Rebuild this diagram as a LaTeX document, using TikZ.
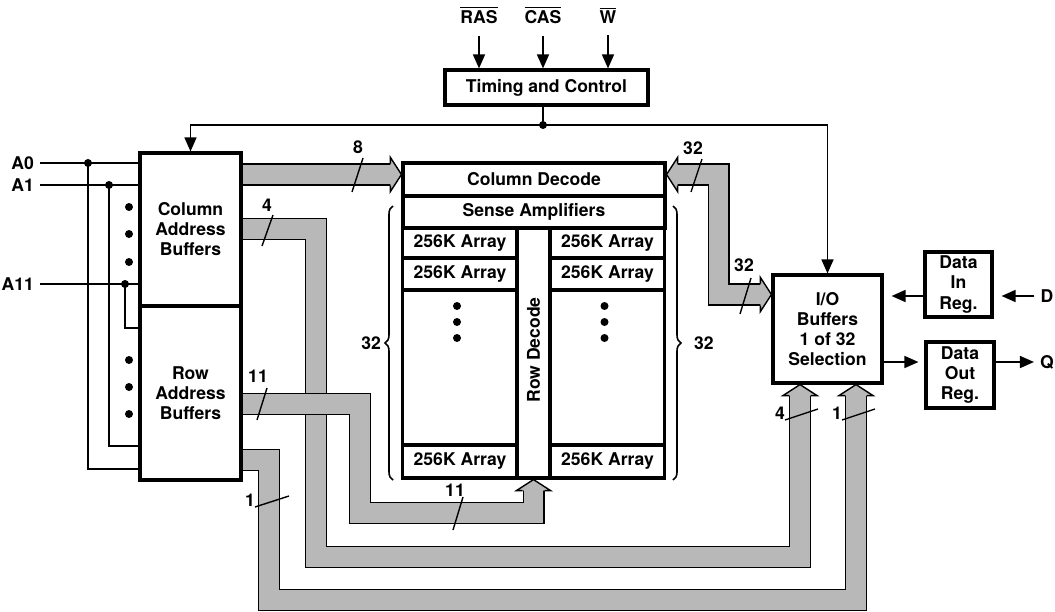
\documentclass[tikz,border=0pt]{standalone}
\usepackage{fontspec}
\setmainfont{TeX Gyre Heros}
\usetikzlibrary{arrows.meta, decorations.pathreplacing}

% wide arrow head at the end of a bus
\newcommand{\bushead}[2]{%
  \begin{scope}[shift={#1}, rotate=#2]
    \fill[black!28] (0,0) -- (-11,17) -- (-11,-17) -- cycle;
    \draw[line width=0.8pt, line join=miter] (-11,11) -- (-11,17) -- (0,0) -- (-11,-17) -- (-11,-11);
  \end{scope}}

\begin{document}
\begin{tikzpicture}[x=0.02cm, y=-0.02cm, >={Triangle[length=0.28cm, width=0.24cm]},
    font=\fontsize{10pt}{11.4pt}\selectfont\bfseries,
    blk/.style={draw, line width=1.8pt, align=center, inner sep=0pt},
    cell/.style={blk, minimum width=2.29cm},
    sig/.style={line width=0.9pt},
    bus/.style={draw=black, line width=0.8pt, double=black!28, double distance=0.384cm, line join=miter},
    tickmark/.style={line width=0.8pt}]
    \useasboundingbox (0,0) rectangle (1055,612);

    % Timing and control
    \node[blk, minimum width=4.06cm, minimum height=0.70cm] (timing) at (546.5,87.5) {Timing and Control};
    \node (ras) at (479,15) {$\overline{\mbox{RAS}}$};
    \node (cas) at (543,15) {$\overline{\mbox{CAS}}$};
    \node (wr) at (608,15) {$\overline{\mbox{W}}$};
    \foreach \s in {ras, cas, wr}
        \draw[sig, ->, shorten <=0.12cm] (\s.south) -- (\s |- timing.north);

    % Address buffers
    \node[blk, minimum width=2.02cm, minimum height=3.06cm] (colbuf) at (190.5,229.5) {Column\\Address\\Buffers};
    \node[blk, minimum width=2.02cm, minimum height=3.48cm] (rowbuf) at (190.5,393) {Row\\Address\\Buffers};

    % Control line
    \coordinate (ctl) at (543,125);
    \draw[sig] (timing.south -| ctl) -- (ctl);
    \fill (ctl) circle (0.08cm);
    \draw[sig, ->] (ctl) -| (colbuf.north);

    % Address inputs
    \node[anchor=east] (a0) at (40,163) {A0};
    \node[anchor=east] (a1) at (40,185) {A1};
    \node[anchor=east] (a11) at (40,284) {A11};
    \coordinate (j0) at (88,163);
    \coordinate (j1) at (109,185);
    \coordinate (j11) at (125,284);
    \coordinate (r0) at (140,469);
    \coordinate (r1) at (140,446);
    \coordinate (r11) at (140,328);
    \draw[sig] (a0) -- (a0 -| colbuf.west);
    \draw[sig] (a1) -- (a1 -| colbuf.west);
    \draw[sig] (a11) -- (a11 -| colbuf.west);
    \draw[sig] (j0) |- (r0);
    \draw[sig] (j1) |- (r1);
    \draw[sig] (j11) |- (r11);
    \foreach \j in {j0, j1, j11}
        \fill (\j) circle (0.08cm);
    \foreach \y in {207,234,262,360,387,414}
        \fill (129,\y) circle (0.08cm);

    % Memory array
    \node[blk, minimum width=5.24cm, minimum height=0.66cm] (coldec) at (534,179.5) {Column Decode};
    \node[blk, minimum width=5.24cm, minimum height=0.64cm] (sense) at (534,212) {Sense Amplifiers};
    \foreach \s/\x in {L/460, R/607.5} {
        \node[cell, minimum height=0.60cm] (arr\s1) at (\x,243) {256K Array};
        \node[cell, minimum height=0.64cm] (arr\s2) at (\x,274) {256K Array};
        \node[cell, minimum height=3.10cm] (arr\s3) at (\x,367.5) {};
        \node[cell, minimum height=0.66cm] (arr\s4) at (\x,461.5) {256K Array};
        \foreach \y in {306,322,338}
            \fill (\x-3,\y) circle (0.08cm);
    }
    \node[blk, minimum width=0.66cm, minimum height=5.00cm] (rowdec) at (533.5,353) {};
    \node[rotate=90] (rowdeclbl) at (533.5,350) {Row Decode};
    \draw[sig, decorate, decoration={brace, amplitude=0.16cm}] (393,480) -- (393,206)
        node[midway, left=0.11cm] (cntL) {32};
    \draw[sig, decorate, decoration={brace, amplitude=0.16cm}] (673,206) -- (673,480)
        node[midway, right=0.29cm] (cntR) {32};

    % I/O and data registers
    \node[blk, minimum width=2.18cm, minimum height=2.16cm] (iobuf) at (827.5,329) {I/O\\Buffers\\1 of 32\\Selection};
    \node[blk, minimum width=1.34cm, minimum height=1.30cm] (datain) at (958.5,284.5) {Data\\In\\Reg.};
    \node[blk, minimum width=1.36cm, minimum height=1.32cm] (dataout) at (960,375) {Data\\Out\\Reg.};
    \draw[sig, ->] (ctl) -| (iobuf.north);
    \node (dlab) at (1047,296) {D};
    \node (qlab) at (1047,362) {Q};
    \draw[sig, ->, shorten >=0.16cm] (dlab) -- (datain.east |- dlab);
    \draw[sig, ->, shorten >=0.16cm] (datain.west |- dlab) -- (iobuf.east |- dlab);
    \draw[sig, ->, shorten >=0.12cm] (iobuf.east |- qlab) -- (dataout.west |- qlab);
    \draw[sig, ->] (dataout.east |- qlab) -- (qlab);

    % Buses
    \draw[bus] (rowbuf.east |- 0,460) -| (269,600) -| (856,394);
    \bushead{(iobuf.south -| 856,0)}{90}
    \draw[bus] (colbuf.east |- 0,229) -| (316,557) -| (800,394);
    \bushead{(iobuf.south -| 800,0)}{90}
    \draw[bus] (rowbuf.east |- 0,404) -| (360,513) -| (533.5,489);
    \bushead{(rowdec.south)}{90}
    \draw[bus] (colbuf.east |- 0,174.5) -- (392,174.5);
    \bushead{(coldec.west |- 0,174.5)}{0}
    \draw[bus] (676,174.5) -- (718.5,174.5) -- (718.5,294.5) -- (762,294.5);
    \bushead{(coldec.east |- 0,174.5)}{180}
    \bushead{(iobuf.west |- 0,294.5)}{0}

    % Bus widths
    \node (w8) at (358,147) {8};
    \draw[tickmark] (363,158) -- (352,192);
    \node (w4a) at (267,205) {4};
    \draw[tickmark] (273,215) -- (262,246);
    \node (w11a) at (258,376) {11};
    \draw[tickmark] (267,388) -- (257,420);
    \node (w11b) at (455,490) {11};
    \draw[tickmark] (463,497) -- (453,530);
    \node (w1a) at (250,500) {1};
    \draw[tickmark] (255,507) -- (289,496);
    \node (w32a) at (693,148) {32};
    \draw[tickmark] (702,159) -- (691,192);
    \node (w32b) at (744,265) {32};
    \draw[tickmark] (751,278) -- (740,314);
    \node (w4b) at (780,413) {4};
    \draw[tickmark] (785,420) -- (818,409);
    \node (w1b) at (837,413) {1};
    \draw[tickmark] (842,420) -- (875,409);
\end{tikzpicture}
\end{document}
